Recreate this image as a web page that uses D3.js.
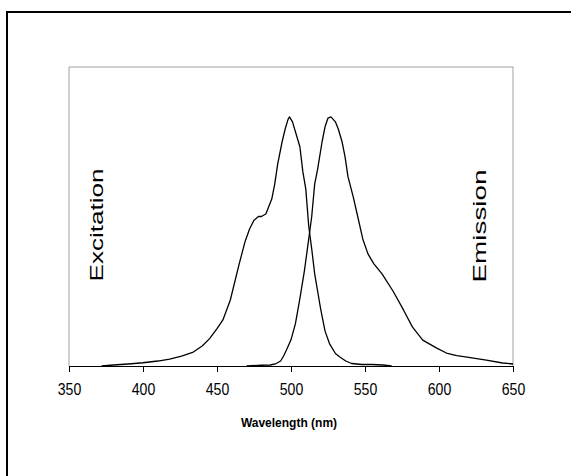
<!DOCTYPE html>
<html>
<head>
<meta charset="utf-8">
<script src="https://cdn.jsdelivr.net/npm/d3@7"></script>
<style>
  body { margin: 0; background: #fff; }
  svg { display: block; font-family: "Liberation Sans", Arial, sans-serif; }
</style>
</head>
<body>
<svg id="chart" width="571" height="476"></svg>
<script>
// spectra, normalised so the peak is 1
var excitationWl  = [372, 380, 390, 400, 410, 418, 426, 434, 440, 445, 450, 454, 459, 465, 469, 472, 475, 478, 480, 483, 485, 487, 489, 491, 494, 496, 498, 499, 501, 504, 506, 508, 510, 512, 514, 516, 518, 520, 523, 526, 530, 533, 537, 541, 548, 555, 562, 568];
var excitationVal = [0, 0.004, 0.008, 0.013, 0.02, 0.028, 0.04, 0.056, 0.08, 0.11, 0.15, 0.185, 0.265, 0.41, 0.5, 0.55, 0.585, 0.6, 0.6, 0.61, 0.64, 0.67, 0.73, 0.81, 0.9, 0.95, 0.99, 1.0, 0.98, 0.92, 0.88, 0.78, 0.71, 0.56, 0.47, 0.37, 0.3, 0.23, 0.14, 0.09, 0.05, 0.036, 0.02, 0.01, 0.006, 0.006, 0.004, 0];

var emissionWl  = [470, 480, 486, 490, 493, 495, 497, 500, 503, 506, 509, 512, 514, 516, 518, 521, 523, 525, 527, 530, 532, 534.5, 536.5, 538.5, 542, 544.5, 548.5, 552, 556, 561.5, 569, 576, 582, 589, 598.5, 605, 612, 619, 632, 643, 650];
var emissionVal = [0, 0.003, 0.004, 0.01, 0.02, 0.04, 0.065, 0.105, 0.17, 0.27, 0.38, 0.51, 0.6, 0.73, 0.79, 0.9, 0.96, 0.995, 1.0, 0.98, 0.95, 0.9, 0.84, 0.76, 0.68, 0.615, 0.51, 0.45, 0.41, 0.37, 0.3, 0.225, 0.157, 0.104, 0.072, 0.052, 0.042, 0.036, 0.024, 0.012, 0.008];

var xTicks = [350, 400, 450, 500, 550, 600, 650];
var xTitle = "Wavelength (nm)";
var leftLabel = "Excitation";
var rightLabel = "Emission";

var svg = d3.select("#chart");

// outer frame (only left and top edges fall inside the picture)
svg.append("rect")
  .attr("x", 7).attr("y", 12)
  .attr("width", 620).attr("height", 520)
  .attr("fill", "none").attr("stroke", "#000").attr("stroke-width", 2);

var plot = { left: 69, right: 513, top: 67, bottom: 366 };

var x = d3.scaleLinear().domain([350, 650]).range([plot.left, plot.right]);
var y = d3.scaleLinear().domain([0, 1.2]).range([plot.bottom, plot.bottom - 299]);

// plot area frame, grey
svg.append("path")
  .attr("d", "M" + plot.left + "," + plot.bottom + "V" + plot.top + "H" + plot.right + "V" + plot.bottom)
  .attr("fill", "none").attr("stroke", "#a0a0a0").attr("stroke-width", 1);

var axis = d3.axisBottom(x).tickValues(xTicks).tickSize(6).tickSizeOuter(0);
var gx = svg.append("g")
  .attr("transform", "translate(0," + plot.bottom + ")")
  .call(axis);
gx.select(".domain").attr("stroke", "#000");
gx.selectAll(".tick line").attr("stroke", "#000");
// labels are a little narrow and tall in the original
gx.selectAll(".tick text")
  .attr("y", null).attr("dy", null)
  .attr("transform", "translate(0,29) scale(0.88,1)")
  .attr("fill", "#000")
  .style("font-size", "16px")
  .style("font-family", "'Liberation Sans', Arial, sans-serif");

svg.append("text")
  .attr("x", 289).attr("y", 427)
  .attr("text-anchor", "middle")
  .style("font-size", "12px").style("font-weight", "bold")
  .text(xTitle);

var line = d3.line()
  .x(function(d) { return x(d[0]); })
  .y(function(d) { return y(d[1]); });

[[excitationWl, excitationVal], [emissionWl, emissionVal]].forEach(function(s) {
  svg.append("path")
    .datum(d3.zip(s[0], s[1]))
    .attr("d", line)
    .attr("fill", "none")
    .attr("stroke", "#000")
    .attr("stroke-width", 1.3)
    .attr("stroke-linejoin", "round");
});

// rotated side labels, stretched along their length like the original
function sideLabel(txt, cx, cy, len) {
  var t = svg.append("text")
    .attr("text-anchor", "middle")
    .style("font-size", "18px")
    .text(txt);
  var w = t.node().getComputedTextLength();
  t.attr("transform", "translate(" + cx + "," + cy + ") rotate(-90) scale(" + (len / w) + ",1)");
}
sideLabel(leftLabel, 103, 225, 113);
sideLabel(rightLabel, 486, 226, 113);
</script>
</body>
</html>
